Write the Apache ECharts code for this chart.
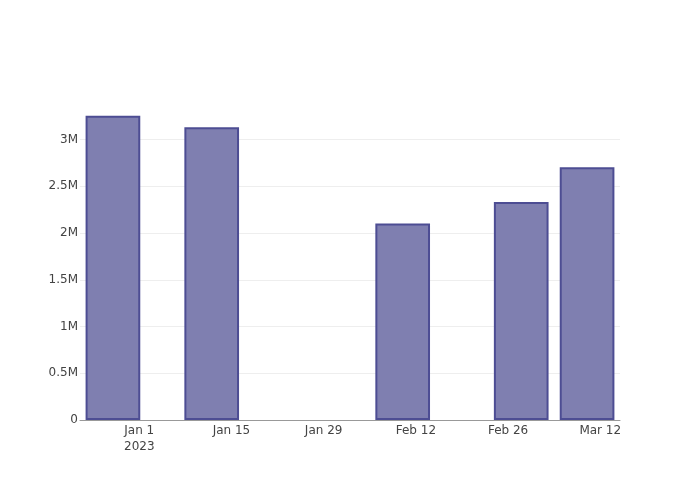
<!DOCTYPE html>
<html>
<head>
<meta charset="utf-8">
<script src="https://cdn.jsdelivr.net/npm/echarts@6/dist/echarts.min.js"></script>
<style>html,body{margin:0;padding:0;background:#fff}#c{width:700px;height:500px}</style>
</head>
<body>
<div id="c"></div>
<script>
const dates = ['2022-12-28', '2023-01-12', '2023-02-10', '2023-02-28', '2023-03-10'];
const values = [3255000, 3132000, 2103000, 2333000, 2703000];
const xTicks = ['2023-01-01', '2023-01-15', '2023-01-29', '2023-02-12', '2023-02-26', '2023-03-12'];
const yTicks = [0, 500000, 1000000, 1500000, 2000000, 2500000, 3000000];
const xMin = '2022-12-23';
const xMax = '2023-03-15';
const yMax = 3423000;

const months = ['Jan','Feb','Mar','Apr','May','Jun','Jul','Aug','Sep','Oct','Nov','Dec'];
const toTs = s => { const [y,m,d] = s.split('-').map(Number); return new Date(y, m-1, d).getTime(); };

const chart = echarts.init(document.getElementById('c'), null, {renderer: 'canvas'});
const gridW = 540;
const dayPx = gridW / ((toTs(xMax) - toTs(xMin)) / 86400000);
chart.setOption({
  animation: false,
  backgroundColor: '#fff',
  textStyle: {fontFamily: '"DejaVu Sans", sans-serif'},
  grid: {left: 80, right: 80, top: 100, bottom: 80},
  xAxis: {
    type: 'value',
    min: toTs(xMin),
    max: toTs(xMax),
    axisLine: {show: true, lineStyle: {color: '#999', width: 1}},
    axisTick: {show: false, customValues: xTicks.map(toTs)},
    splitLine: {show: false},
    axisLabel: {
      customValues: xTicks.map(toTs),
      color: '#444', fontSize: 12, margin: 3, lineHeight: 16,
      fontFamily: '"DejaVu Sans", sans-serif',
      hideOverlap: false,
      formatter: v => {
        const d = new Date(v);
        let s = months[d.getMonth()] + ' ' + d.getDate();
        if (d.getMonth() === 0 && d.getDate() === 1) s += '\n' + d.getFullYear();
        return s;
      }
    }
  },
  yAxis: {
    type: 'value',
    min: 0,
    max: yMax,
    axisLine: {show: false},
    axisTick: {show: false, customValues: yTicks},
    splitLine: {show: true, lineStyle: {color: '#eee', width: 1}},
    axisLabel: {
      customValues: yTicks,
      color: '#444', fontSize: 12, margin: 2,
      fontFamily: '"DejaVu Sans", sans-serif',
      formatter: v => v === 0 ? '0' : (v / 1e6) + 'M'
    }
  },
  series: [{
    type: 'bar',
    data: dates.map((d, i) => [toTs(d), values[i]]),
    barWidth: 8 * dayPx + 2,
    itemStyle: {color: '#7f7fb0', borderColor: '#4d4d93', borderWidth: 2}
  }]
});
</script>
</body>
</html>
